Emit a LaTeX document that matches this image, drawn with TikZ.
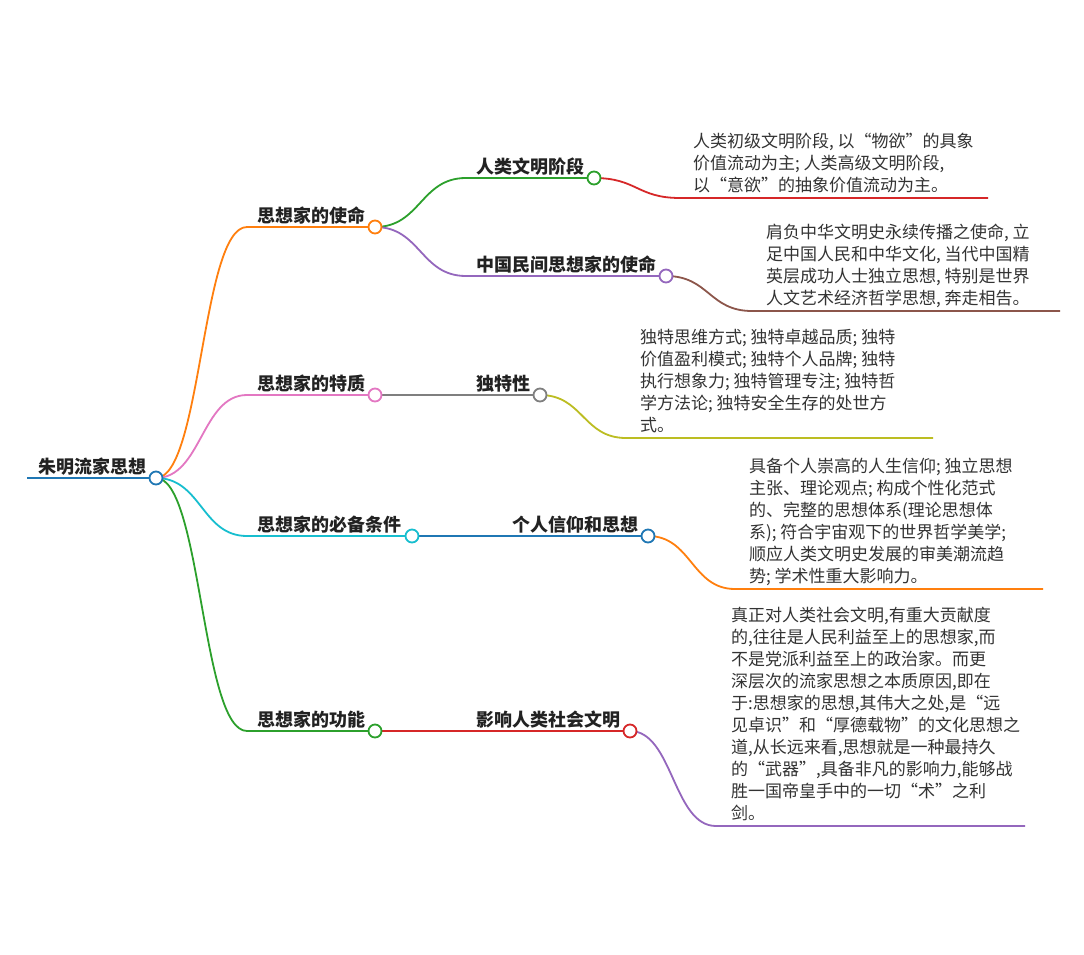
\documentclass[tikz,border=0pt]{standalone}
\usepackage{fontspec}
\setmainfont{Noto Sans CJK SC}
\definecolor{cblue}{HTML}{1F77B4}
\definecolor{corange}{HTML}{FF7F0E}
\definecolor{cgreen}{HTML}{2CA02C}
\definecolor{cred}{HTML}{D62728}
\definecolor{cpurple}{HTML}{9467BD}
\definecolor{cbrown}{HTML}{8C564B}
\definecolor{cpink}{HTML}{E377C2}
\definecolor{cgray}{HTML}{7F7F7F}
\definecolor{colive}{HTML}{BCBD22}
\definecolor{ccyan}{HTML}{17BECF}
\definecolor{labelc}{HTML}{222222}
\definecolor{bodyc}{HTML}{333333}
\tikzset{
  link/.style={line width=1.8pt},
  dot/.style={circle, draw, fill=white, line width=1.8pt, minimum size=13pt, inner sep=0pt},
  lbl/.style={anchor=base west, inner sep=0pt, font=\fontsize{18}{22}\selectfont\bfseries, text=labelc},
  body/.style={anchor=base west, inner sep=0pt, font=\fontsize{17}{22}\selectfont, text=bodyc}
}
\newcommand{\leaftext}[1]{\parbox[b]{330pt}{\raggedright #1}}
\begin{document}
\begin{tikzpicture}[x=1pt,y=-1pt]
\fill[white] (0,0) rectangle (1084,955);
\useasboundingbox (0,0) rectangle (1084,955);
% coordinates
\coordinate (r0) at (27,478);   \coordinate (r) at (156,478);
\coordinate (a0) at (247,227);  \coordinate (a) at (375,227);
\coordinate (b0) at (247,395);  \coordinate (b) at (375,395);
\coordinate (c0) at (247,536);  \coordinate (c) at (412,536);
\coordinate (d0) at (247,731);  \coordinate (d) at (375,731);
\coordinate (a10) at (466,178); \coordinate (a1) at (594,178);
\coordinate (a20) at (466,276); \coordinate (a2) at (666,276);
\coordinate (b1) at (540,395);
\coordinate (c1) at (648,536);
\coordinate (d1) at (630,731);
\coordinate (la0) at (680,198); \coordinate (la) at (988,198);
\coordinate (lb0) at (752,311); \coordinate (lb) at (1060,311);
\coordinate (lc0) at (626,438); \coordinate (lc) at (933,438);
\coordinate (ld0) at (735,589); \coordinate (ld) at (1043,589);
\coordinate (le0) at (716,826); \coordinate (le) at (1025,826);
% connectors
\draw[link,cblue] (r0) -- (r);
\draw[link,corange] (r) .. controls +(45.5,0) and +(-45.5,0) .. (a0) -- (a);
\draw[link,cpink] (r) .. controls +(45.5,0) and +(-45.5,0) .. (b0) -- (b);
\draw[link,ccyan] (r) .. controls +(45.5,0) and +(-45.5,0) .. (c0) -- (c);
\draw[link,cgreen] (r) .. controls +(45.5,0) and +(-45.5,0) .. (d0) -- (d);
\draw[link,cgreen] (a) .. controls +(45.5,0) and +(-45.5,0) .. (a10) -- (a1);
\draw[link,cpurple] (a) .. controls +(45.5,0) and +(-45.5,0) .. (a20) -- (a2);
\draw[link,cgray] (b) -- (b1);
\draw[link,cblue] (c) -- (c1);
\draw[link,cred] (d) -- (d1);
\draw[link,cred] (a1) .. controls +(43,0) and +(-43,0) .. (la0) -- (la);
\draw[link,cbrown] (a2) .. controls +(43,0) and +(-43,0) .. (lb0) -- (lb);
\draw[link,colive] (b1) .. controls +(43,0) and +(-43,0) .. (lc0) -- (lc);
\draw[link,corange] (c1) .. controls +(43.5,0) and +(-43.5,0) .. (ld0) -- (ld);
\draw[link,cpurple] (d1) .. controls +(43,0) and +(-43,0) .. (le0) -- (le);
% dots
\node[dot,draw=cblue] (rd) at (r) {};
\node[dot,draw=corange] (ad) at (a) {};
\node[dot,draw=cpink] (bd) at (b) {};
\node[dot,draw=ccyan] (cd) at (c) {};
\node[dot,draw=cgreen] (dd) at (d) {};
\node[dot,draw=cgreen] (a1d) at (a1) {};
\node[dot,draw=cpurple] (a2d) at (a2) {};
\node[dot,draw=cgray] (b1d) at (b1) {};
\node[dot,draw=cblue] (c1d) at (c1) {};
\node[dot,draw=cred] (d1d) at (d1) {};
% labels
\node[lbl] (rl) at (38,473) {朱明流家思想};
\node[lbl] (al) at (257,222) {思想家的使命};
\node[lbl] (bl) at (257,390) {思想家的特质};
\node[lbl] (cl) at (257,531) {思想家的必备条件};
\node[lbl] (dl) at (257,726) {思想家的功能};
\node[lbl] (a1l) at (476,173) {人类文明阶段};
\node[lbl] (a2l) at (476,271) {中国民间思想家的使命};
\node[lbl] (b1l) at (476,390) {独特性};
\node[lbl] (c1l) at (512,531) {个人信仰和思想};
\node[lbl] (d1l) at (476,726) {影响人类社会文明};
% leaf texts
\node[body] (ta) at (693,191) {\leaftext{人类初级文明阶段, 以“物欲”的具象\\价值流动为主; 人类高级文明阶段,\\以“意欲”的抽象价值流动为主。}};
\node[body] (tb) at (766,304) {\leaftext{肩负中华文明史永续传播之使命, 立\\足中国人民和中华文化, 当代中国精\\英层成功人士独立思想, 特别是世界\\人文艺术经济哲学思想, 奔走相告。}};
\node[body] (tc) at (640,431) {\leaftext{独特思维方式; 独特卓越品质; 独特\\价值盈利模式; 独特个人品牌; 独特\\执行想象力; 独特管理专注; 独特哲\\学方法论; 独特安全生存的处世方\\式。}};
\node[body] (td) at (749,582) {\leaftext{具备个人崇高的人生信仰; 独立思想\\主张、理论观点; 构成个性化范式\\的、完整的思想体系(理论思想体\\系); 符合宇宙观下的世界哲学美学;\\顺应人类文明史发展的审美潮流趋\\势; 学术性重大影响力。}};
\node[body] (te) at (731,819) {\leaftext{真正对人类社会文明,有重大贡献度\\的,往往是人民利益至上的思想家,而\\不是党派利益至上的政治家。而更\\深层次的流家思想之本质原因,即在\\于:思想家的思想,其伟大之处,是“远\\见卓识”和“厚德载物”的文化思想之\\道,从长远来看,思想就是一种最持久\\的“武器”,具备非凡的影响力,能够战\\胜一国帝皇手中的一切“术”之利\\剑。}};
\end{tikzpicture}
\end{document}
